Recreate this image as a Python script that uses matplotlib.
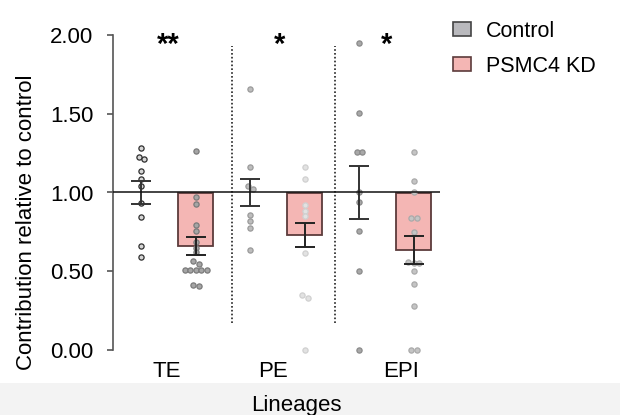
import matplotlib
matplotlib.use("Agg")
import matplotlib.pyplot as plt
import numpy as np
from matplotlib.patches import Patch, Rectangle

plt.rcParams['font.family'] = ['Liberation Sans', 'DejaVu Sans']

## data: contribution relative to control, per lineage
lineages = ['TE', 'PE', 'EPI']
groups = ['Control', 'PSMC4 KD']

ctrl_te = [1.284, 1.225, 1.21, 1.136, 1.083, 1.043, 0.935, 0.846, 0.659, 0.589]
ctrl_pe = [1.657, 1.161, 1.04, 1.02, 0.856, 0.818, 0.774, 0.634]
ctrl_epi = [1.952, 1.505, 1.255, 1.255, 1.004, 0.941, 0.755, 0.502, 0.0]

kd_te = [1.265, 0.973, 0.926, 0.795, 0.755, 0.683, 0.648, 0.623, 0.566, 0.547,
         0.51, 0.51, 0.51, 0.51, 0.51, 0.41, 0.405]
kd_pe = [1.161, 1.085, 0.92, 0.88, 0.85, 0.613, 0.35, 0.33, 0.0]
kd_epi = [1.255, 1.074, 1.0, 0.837, 0.837, 0.748, 0.56, 0.55, 0.55, 0.502,
          0.416, 0.278, 0.0, 0.0]

ctrl_mean = [1.0, 1.0, 1.0]
ctrl_sem = [0.076, 0.087, 0.17]
kd_mean = [0.66, 0.733, 0.636]
kd_sem = [0.058, 0.076, 0.087]

stars = ['**', '*', '*']

ctrl_dots = [ctrl_te, ctrl_pe, ctrl_epi]
kd_dots = [kd_te, kd_pe, kd_epi]

## dot styles per lineage (face, edge)
ctrl_style = [('#d6d6d6', '#2e2e2e'), ('#bdbdbd', '#9a9a9a'), ('#a8a8a8', '#8a8a8a')]
kd_style = [('#a5a5a5', '#7a7a7a'), ('#e2e2e2', '#d0d0d0'), ('#c4c4c4', '#aaaaaa')]


def swarm(vals, step=0.05, tol=0.025):
    # spread dots with nearly equal values side by side
    vals = np.asarray(vals, dtype=float)
    offs = np.zeros(len(vals))
    used = np.zeros(len(vals), dtype=bool)
    for i in range(len(vals)):
        if used[i]:
            continue
        idx = [j for j in range(len(vals)) if not used[j] and abs(vals[j] - vals[i]) < tol]
        k = len(idx)
        for n, j in enumerate(idx):
            offs[j] = (n - (k - 1) / 2) * step
            used[j] = True
    return offs


fig = plt.figure(figsize=(6.2, 4.15), dpi=100)
fig.patches.append(Rectangle((0, 0), 1, 32 / 415, transform=fig.transFigure,
                             facecolor='#f3f3f3', edgecolor='none', zorder=-10))
ax = fig.add_axes([113 / 620, 1 - 350 / 415, (440 - 113) / 620, (350 - 35) / 415])

x = np.arange(len(lineages))
xc = x - 0.25
xk = x + 0.25

## KD bars hang from the control level (1.0) down to the mean
ax.bar(xk, np.array(kd_mean) - 1.0, bottom=1.0, width=0.32, color='#f4b6b4',
       edgecolor='#5c3b3b', linewidth=1.3, zorder=2)

for i in range(len(lineages)):
    v = np.array(ctrl_dots[i])
    ax.scatter(xc[i] + swarm(v), v, s=14, facecolor=ctrl_style[i][0],
               edgecolor=ctrl_style[i][1], linewidth=0.9, zorder=3, clip_on=False)
    v = np.array(kd_dots[i])
    ax.scatter(xk[i] + swarm(v), v, s=14, facecolor=kd_style[i][0],
               edgecolor=kd_style[i][1], linewidth=0.9, zorder=3, clip_on=False)

ax.errorbar(xc, ctrl_mean, yerr=ctrl_sem, fmt='none', ecolor='#333333',
            elinewidth=1.4, capsize=7, capthick=1.4, zorder=4)
ax.errorbar(xk, kd_mean, yerr=kd_sem, fmt='none', ecolor='#222222',
            elinewidth=1.4, capsize=7, capthick=1.4, zorder=4)

ax.axhline(1.0, color='#111111', linewidth=1.1, zorder=5)

for sep in [0.58, 1.53]:
    ax.plot([sep, sep], [0.17, 1.93], linestyle=(0, (1, 1.3)), color='#222222', linewidth=1.2)

for i, s in enumerate(stars):
    ax.text(x[i] + [0.0, 0.02, 0.0][i], 1.94, s, ha='center', va='center',
            fontsize=21, fontweight='bold')

ax.set_xlim(-0.51, 2.49)
ax.set_ylim(0, 2.0)
ax.set_yticks([0, 0.5, 1.0, 1.5, 2.0])
ax.set_yticklabels(['0.00', '0.50', '1.00', '1.50', '2.00'], fontsize=16)
ax.set_xticks([-0.02, 0.96, 2.13])
ax.set_xticklabels(lineages, fontsize=16)
ax.tick_params(axis='x', length=0, pad=8)
ax.tick_params(axis='y', length=4, width=1.2, color='#555555', pad=10)
for side in ['top', 'right', 'bottom']:
    ax.spines[side].set_visible(False)
ax.spines['left'].set_color('#555555')
ax.spines['left'].set_linewidth(1.2)
ax.set_ylabel('Contribution relative to control', fontsize=16, va='center')
ax.yaxis.set_label_coords(-0.266, 0.406)
ax.set_xlabel('Lineages', fontsize=16, va='center')
ax.xaxis.set_label_coords(0.56, -0.175)

handles = [Patch(facecolor='#b9b9bd', edgecolor='#444444', linewidth=1.2),
           Patch(facecolor='#f4b6b4', edgecolor='#5c3b3b', linewidth=1.2)]
fig.legend(handles, groups, loc='upper left', bbox_to_anchor=(0.699, 0.997),
           frameon=False, fontsize=15.5, handlelength=0.85, handleheight=0.6,
           handletextpad=0.7, labelspacing=0.65)

fig.savefig('out.png', dpi=100)
